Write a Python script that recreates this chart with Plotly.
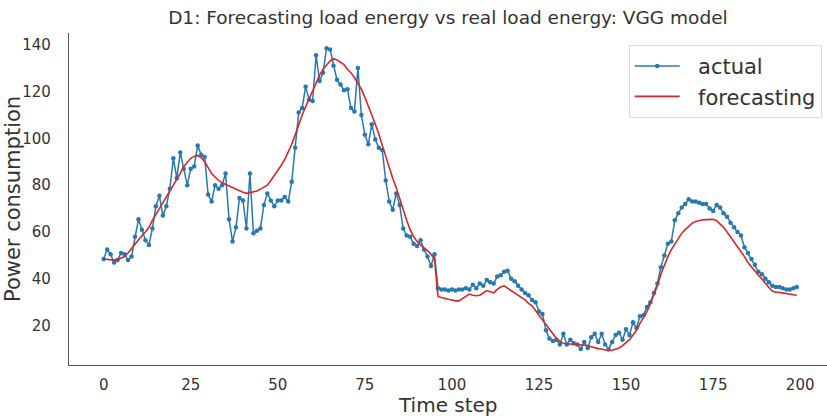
import plotly.graph_objects as go

time_step = list(range(200))

actual = [
    48.5, 52.5, 50.5, 47, 48, 51, 50.5, 48, 49.5, 58,
    65.5, 61, 56.5, 54.5, 61.5, 71, 75.5, 67, 71, 78.5,
    91.5, 83, 94, 87, 80, 87, 88, 97, 93, 92,
    76, 73, 80, 78.5, 80, 85, 65.5, 56, 62, 74.5,
    73.5, 61.5, 85, 59.5, 60.5, 61.5, 71.5, 76.5, 73.5, 71,
    73.5, 73.5, 75, 73, 81.5, 96, 111, 113, 122, 116.5,
    116, 135.5, 124.5, 128, 138.5, 138, 131, 125, 123, 120.5,
    121, 113, 111.5, 130, 110, 101.5, 97.5, 106, 99.5, 96,
    95, 82, 73, 69.5, 76.5, 71.5, 61.5, 58.5, 58, 55,
    54, 56.5, 52.5, 49.5, 45.5, 50.5, 36, 35.5, 35.5, 35,
    35.5, 35, 35.5, 35.5, 36, 35.5, 37.5, 36, 38, 37,
    39.5, 38.5, 38, 41, 41.5, 43, 43.5, 40, 39, 37,
    35.5, 34, 33, 31, 30, 26, 25, 18, 14.5, 13.5,
    14, 12, 16.5, 12, 14, 12.5, 12, 10, 13, 10.5,
    15, 16.5, 13, 16.5, 12, 10, 13, 16, 17, 14,
    18.5, 16, 21.5, 19, 24, 24.5, 28, 30, 34, 38,
    45, 50, 55, 56, 65, 68, 70.5, 72, 74, 73,
    73, 72.5, 72, 72, 70, 69, 71.5, 70.5, 68, 66.5,
    64, 62, 60, 58.5, 53.5, 51, 48.5, 46, 43, 42,
    40, 38.5, 37, 36.5, 36.5, 36, 35.5, 35.5, 36, 36.5,
]

forecasting = [
    48.5, 48.3, 48.2, 48, 48.3, 49, 49.5, 51, 53, 55,
    57, 58.5, 60, 62, 65, 67.5, 70, 72.5, 75, 77,
    80, 82.5, 85, 88, 90, 91.5, 92.3, 92.7, 91.8, 90,
    87.5, 85, 83.5, 82, 81, 80.3, 79.8, 79, 78.5, 77.8,
    77, 76.5, 76.8, 77, 77.5, 78.3, 79, 80, 82, 84,
    86, 88.5, 91, 94, 97.5, 101.5, 106, 110, 113.5, 117,
    120.5, 124, 127, 129.5, 131.5, 133, 134, 133.5, 132.5, 131.5,
    129.5, 128, 126, 123.5, 121, 117.5, 114, 110, 106, 102,
    97, 92, 87.5, 83, 79, 74, 69.5, 65, 61, 58,
    56, 54.5, 53, 52, 50.5, 48.5, 32.5, 32, 31.5, 31.3,
    31, 30.6, 30.6, 31.5, 32.5, 33.5, 33, 32.8, 33, 34,
    35, 34.5, 34, 35.5, 36.5, 37, 36, 35, 34, 33,
    32, 31, 29.5, 28.5, 26.5, 24.5, 22.7, 20.5, 18.5, 16.3,
    14.5, 13.3, 12.5, 12.3, 12.2, 12, 11.9, 11.8, 11.6, 11.5,
    11, 10.5, 10.2, 10, 9.5, 9.3, 9.5, 10, 10.5, 11.5,
    12.8, 14, 16, 18, 21, 23.5, 26, 29.5, 33, 37,
    42, 46, 49.5, 52.5, 55, 57.5, 59.5, 61, 62.5, 63.8,
    64.5, 65, 65.2, 65.3, 65.4, 65.4, 64.8, 63.5, 62, 60,
    58, 56, 53.5, 51.5, 49.5, 47, 45, 43.3, 41.5, 40,
    38, 36.3, 34.8, 34.3, 34.2, 34, 33.8, 33.5, 33.2, 33,
]

x_ticks = [0, 25, 50, 75, 100, 125, 150, 175, 200]
y_ticks = [20, 40, 60, 80, 100, 120, 140]

FONT = "DejaVu Sans"
TXT = "#333333"
PAD = "\u00a0\u00a0"

fig = go.Figure()
fig.add_trace(go.Scatter(
    x=time_step, y=actual, name=PAD + "actual", mode="lines+markers",
    line=dict(color="#2878b0", width=1.5),
    marker=dict(color="#2878b0", size=4.5),
))
fig.add_trace(go.Scatter(
    x=time_step, y=forecasting, name=PAD + "forecasting", mode="lines",
    line=dict(color="#d62728", width=1.6),
))

fig.update_layout(
    width=827, height=416,
    margin=dict(l=69, r=0, t=33, b=51),
    paper_bgcolor="white", plot_bgcolor="white",
    font=dict(family=FONT, color=TXT, size=15),
    title=dict(text="D1: Forecasting load energy vs real load energy: VGG model",
               x=0.5416, xanchor="center", y=0.957, yanchor="middle",
               font=dict(family=FONT, size=18.5, color=TXT)),
    showlegend=True,
    legend=dict(x=0.993, xanchor="right", y=0.964, yanchor="top",
                bgcolor="white", bordercolor="#dddddd", borderwidth=1,
                font=dict(family=FONT, size=21, color=TXT),
                itemwidth=45, tracegroupgap=0),
    xaxis=dict(range=[-9.95, 207.7], tickvals=x_ticks, showgrid=False,
               zeroline=False, showline=True, linecolor="#555555", linewidth=1.3,
               ticks="", ticklabelstandoff=6,
               tickfont=dict(family=FONT, size=15, color=TXT)),
    yaxis=dict(range=[3.2, 145], tickvals=y_ticks, showgrid=False,
               zeroline=False, showline=True, linecolor="#555555", linewidth=1.3,
               ticks="", ticklabelstandoff=14,
               tickfont=dict(family=FONT, size=15, color=TXT)),
    annotations=[
        dict(text="Power consumption", xref="paper", yref="paper",
             x=0, y=0.5, xshift=-56, xanchor="center", yanchor="middle",
             textangle=-90, showarrow=False,
             font=dict(family=FONT, size=21, color=TXT)),
        dict(text="Time step", xref="paper", yref="paper",
             x=0.5, y=0, yshift=-40, xanchor="center", yanchor="middle",
             showarrow=False, font=dict(family=FONT, size=20, color=TXT)),
    ],
)

fig.write_html("out.html")
